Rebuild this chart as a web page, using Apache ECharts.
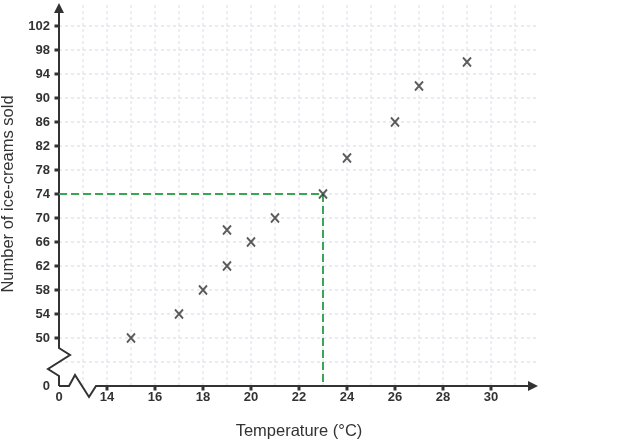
<!DOCTYPE html>
<html><head><meta charset="utf-8">
<script src="https://cdn.jsdelivr.net/npm/echarts@6/dist/echarts.min.js"></script>
<style>html,body{margin:0;padding:0;background:#fff}#c{width:624px;height:441px}</style>
</head><body><div id="c"></div>
<script>
// ---- data ----
const temperature = [15, 17, 18, 19, 19, 20, 21, 23, 24, 26, 27, 29];
const iceCreamsSold = [50, 54, 58, 62, 68, 66, 70, 74, 80, 86, 92, 96];
const xTickLabels = [14, 16, 18, 20, 22, 24, 26, 28, 30];
const yTickLabels = [50, 54, 58, 62, 66, 70, 74, 78, 82, 86, 90, 94, 98, 102];
const xGridValues = [13, 14, 15, 16, 17, 18, 19, 20, 21, 22, 23, 24, 25, 26, 27, 28, 29, 30, 31];
const yGridValues = [46, 50, 54, 58, 62, 66, 70, 74, 78, 82, 86, 90, 94, 98, 102];
const readTemperature = 23;
const readSold = 74;
const xMin = 12, xMax = 32, yMin = 42, yMax = 106;

const points = temperature.map((t, i) => [t, iceCreamsSold[i]]);
const dark = '#333333';
const font = '"Liberation Sans", Arial, sans-serif';

function renderFrame(params, api) {
  const ch = [];
  const hStyle = { stroke: '#dad6ec', lineWidth: 1, lineDash: [3, 3] };
  const vStyle = { stroke: '#e4e2ec', lineWidth: 1.2, lineDash: [3, 3] };
  xGridValues.forEach(v => {
    const a = api.coord([v, yMin]), b = api.coord([v, yMax]);
    ch.push({ type: 'line', shape: { x1: a[0], y1: a[1], x2: b[0], y2: b[1] }, style: vStyle });
  });
  yGridValues.forEach(v => {
    const a = api.coord([xMin, v]), b = api.coord([xMax, v]);
    ch.push({ type: 'line', shape: { x1: a[0], y1: a[1], x2: b[0], y2: b[1] }, style: hStyle });
  });
  const o = api.coord([xMin, yMin]);
  const xe = api.coord([xMax, yMin]);
  const ye = api.coord([xMin, yMax]);
  // x axis with break
  ch.push({ type: 'polyline', shape: { points: [
    [o[0], o[1]], [o[0] + 10, o[1]], [o[0] + 16, o[1] - 11], [o[0] + 30, o[1] + 11], [o[0] + 37, o[1]], [xe[0] - 8, xe[1]]
  ] }, style: { stroke: dark, lineWidth: 2, fill: null } });
  ch.push({ type: 'polygon', shape: { points: [[xe[0] - 1, xe[1]], [xe[0] - 11, xe[1] - 5], [xe[0] - 11, xe[1] + 5]] }, style: { fill: dark } });
  // y axis with break
  ch.push({ type: 'polyline', shape: { points: [
    [o[0], o[1]], [o[0], o[1] - 10], [o[0] - 11, o[1] - 17], [o[0] + 11, o[1] - 31], [o[0], o[1] - 38], [ye[0], ye[1] + 8]
  ] }, style: { stroke: dark, lineWidth: 2, fill: null } });
  ch.push({ type: 'polygon', shape: { points: [[ye[0], ye[1] + 1], [ye[0] - 5, ye[1] + 11], [ye[0] + 5, ye[1] + 11]] }, style: { fill: dark } });
  // ticks
  xTickLabels.forEach(v => {
    const p = api.coord([v, yMin]);
    ch.push({ type: 'rect', shape: { x: p[0] - 1.5, y: p[1] + 1, width: 3, height: 3.5 }, style: { fill: dark } });
  });
  yTickLabels.forEach(v => {
    const p = api.coord([xMin, v]);
    ch.push({ type: 'rect', shape: { x: p[0] - 4.5, y: p[1] - 1.5, width: 3.5, height: 3 }, style: { fill: dark } });
  });
  return { type: 'group', children: ch };
}

const chart = echarts.init(document.getElementById('c'), null, { renderer: 'canvas' });
chart.setOption({
  animation: false,
  backgroundColor: '#ffffff',
  grid: { left: 59, right: 85, top: 2, bottom: 55, outerBoundsMode: 'none', containLabel: false },
  xAxis: {
    type: 'value', min: xMin, max: xMax, interval: 2,
    name: 'Temperature (°C)', nameLocation: 'middle', nameGap: 37,
    nameTextStyle: { fontFamily: font, fontSize: 16.5, color: dark },
    axisLine: { show: false }, axisTick: { show: false }, splitLine: { show: false },
    axisLabel: {
      margin: 5, fontFamily: font, fontSize: 13, fontWeight: 'bold', color: dark,
      showMinLabel: true, showMaxLabel: true,
      formatter: v => v === xMin ? '0' : (xTickLabels.indexOf(v) >= 0 ? String(v) : '')
    }
  },
  yAxis: {
    type: 'value', min: yMin, max: yMax, interval: 4,
    name: 'Number of ice-creams sold', nameLocation: 'middle', nameGap: 42, nameRotate: 90,
    nameTextStyle: { fontFamily: font, fontSize: 16.5, color: dark },
    axisLine: { show: false }, axisTick: { show: false }, splitLine: { show: false },
    axisLabel: {
      margin: 9, fontFamily: font, fontSize: 13, fontWeight: 'bold', color: dark,
      showMinLabel: true, showMaxLabel: true,
      formatter: v => v === yMin ? '0' : (yTickLabels.indexOf(v) >= 0 ? String(v) : '')
    }
  },
  series: [
    { type: 'custom', coordinateSystem: 'cartesian2d', data: [[xMin, yMin]], renderItem: renderFrame, clip: false, silent: true, z: 1 },
    {
      type: 'line', data: [[xMin, readSold], [readTemperature, readSold], [readTemperature, yMin]],
      symbol: 'none', lineStyle: { color: '#3aa655', width: 2, type: [8, 4] }, z: 2, silent: true
    },
    {
      type: 'scatter', data: points, z: 3,
      symbol: 'path://M0,0L10,11M10,0L0,11', symbolSize: [8, 9],
      itemStyle: { color: 'none', borderColor: dark, borderWidth: 2 }
    }
  ]
});
</script>
</body></html>
